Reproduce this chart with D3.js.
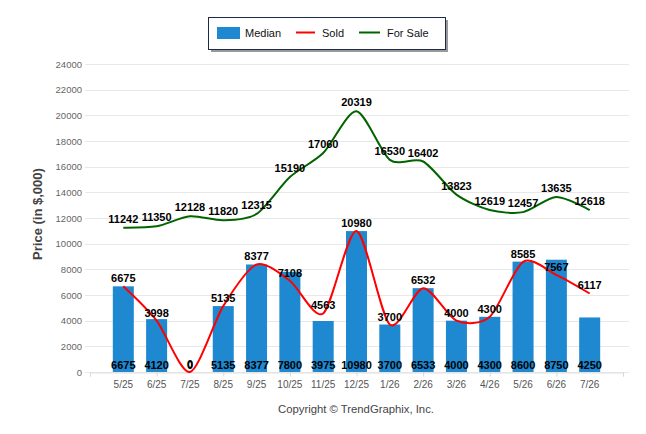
<!DOCTYPE html>
<html>
<head>
<meta charset="utf-8">
<script src="https://cdn.jsdelivr.net/npm/d3@7"></script>
<style>
  body { margin: 0; background: #fff; }
  svg { font-family: "Liberation Sans", Arial, sans-serif; }
</style>
</head>
<body>
<div id="chart"></div>
<script>
// chart data
const months = ['5/25', '6/25', '7/25', '8/25', '9/25', '10/25', '11/25', '12/25',
  '1/26', '2/26', '3/26', '4/26', '5/26', '6/26', '7/26'];
const median = [6675, 4120, 0, 5135, 8377, 7800, 3975, 10980, 3700, 6533, 4000, 4300, 8600, 8750, 4250];
const sold = [6675, 3998, 0, 5135, 8377, 7108, 4563, 10980, 3700, 6532, 4000, 4300, 8585, 7567, 6117];
const forSale = [11242, 11350, 12128, 11820, 12315, 15190, 17060, 20319, 16530, 16402, 13823, 12619, 12457, 13635, 12618];
const yTicks = [0, 2000, 4000, 6000, 8000, 10000, 12000, 14000, 16000, 18000, 20000, 22000, 24000];

const width = 646, height = 434;
const margin = {top: 64, right: 24, bottom: 62, left: 90};

const svg = d3.select('#chart').append('svg')
    .attr('width', width)
    .attr('height', height);

// categories sit at index 1..15 on a 0..16 axis
const x = d3.scaleLinear()
    .domain([0, months.length + 1])
    .range([margin.left, width - margin.right + 1]);

const y = d3.scaleLinear()
    .domain([0, 24000])
    .range([height - margin.bottom, margin.top]);

// gridlines
svg.append('g')
  .selectAll('line')
  .data(yTicks)
  .join('line')
    .attr('x1', 85)
    .attr('x2', 629)
    .attr('y1', d => Math.round(y(d)) + 0.5)
    .attr('y2', d => Math.round(y(d)) + 0.5)
    .attr('stroke', '#e8e8e8');

// y tick labels
svg.append('g')
  .selectAll('text')
  .data(yTicks)
  .join('text')
    .attr('x', 82)
    .attr('y', d => y(d) + 3.5)
    .attr('text-anchor', 'end')
    .attr('font-size', 9.5)
    .attr('fill', '#666')
    .text(d => d);

// x axis
const xAxis = d3.axisBottom(x)
    .tickValues(d3.range(0, months.length + 2, 2))
    .tickSize(4)
    .tickFormat('');
const gx = svg.append('g')
    .attr('transform', `translate(0,${Math.round(y(0)) + 0.5})`)
    .call(xAxis);
gx.select('.domain').attr('stroke', '#e0e0e0');
gx.selectAll('.tick line').attr('stroke', '#d8d8d8');

svg.append('g')
  .selectAll('text')
  .data(months)
  .join('text')
    .attr('x', (d, i) => x(i + 1))
    .attr('y', 388)
    .attr('text-anchor', 'middle')
    .attr('font-size', 10)
    .attr('fill', '#555')
    .text(d => d);

// bars
const barW = 21;
svg.append('g')
  .selectAll('rect')
  .data(median)
  .join('rect')
    .attr('x', (d, i) => x(i + 1) - barW / 2)
    .attr('y', d => y(d))
    .attr('width', barW)
    .attr('height', d => y(0) - y(d))
    .attr('fill', '#1e88d0');

// clip for lines so the spline stays inside the plot
svg.append('clipPath').attr('id', 'plot')
  .append('rect')
    .attr('x', margin.left).attr('y', margin.top - 10)
    .attr('width', width - margin.left - margin.right)
    .attr('height', y(0) - margin.top + 11);

const line = d3.line()
    .x((d, i) => x(i + 1))
    .y(d => y(d))
    .curve(d3.curveCardinal.tension(0.2));

svg.append('path')
    .datum(forSale)
    .attr('d', line)
    .attr('fill', 'none')
    .attr('stroke', '#006400')
    .attr('stroke-width', 2)
    .attr('clip-path', 'url(#plot)');

svg.append('path')
    .datum(sold)
    .attr('d', line)
    .attr('fill', 'none')
    .attr('stroke', '#ff0000')
    .attr('stroke-width', 2)
    .attr('clip-path', 'url(#plot)');

// data labels
function labels(data, yPos) {
  svg.append('g')
    .selectAll('text')
    .data(data)
    .join('text')
      .attr('x', (d, i) => x(i + 1))
      .attr('y', yPos)
      .attr('text-anchor', 'middle')
      .attr('font-size', 11)
      .attr('font-weight', 'bold')
      .attr('fill', '#000')
      .text(d => d);
}
labels(median, () => 369);
labels(sold, d => y(d) - 4);
labels(forSale, d => y(d) - 5);

// y axis title
svg.append('text')
    .attr('transform', 'translate(42,214) rotate(-90)')
    .attr('text-anchor', 'middle')
    .attr('font-size', 13)
    .attr('font-weight', 'bold')
    .attr('fill', '#444')
    .text('Price (in $,000)');

// copyright
svg.append('text')
    .attr('x', 356)
    .attr('y', 413)
    .attr('text-anchor', 'middle')
    .attr('font-size', 11.3)
    .attr('fill', '#444')
    .text('Copyright \u00A9 TrendGraphix, Inc.');

// legend
const legend = svg.append('g');
legend.append('rect')
    .attr('x', 211).attr('y', 20)
    .attr('width', 237).attr('height', 32)
    .attr('fill', '#999');
legend.append('rect')
    .attr('x', 208.5).attr('y', 17.5)
    .attr('width', 237).attr('height', 32)
    .attr('fill', '#fff')
    .attr('stroke', '#1c2b4a');

legend.append('rect')
    .attr('x', 217).attr('y', 27)
    .attr('width', 23).attr('height', 12)
    .attr('fill', '#1e88d0');
legend.append('line')
    .attr('x1', 296).attr('x2', 315)
    .attr('y1', 32.5).attr('y2', 32.5)
    .attr('stroke', '#ff0000').attr('stroke-width', 2);
legend.append('line')
    .attr('x1', 359).attr('x2', 380)
    .attr('y1', 32.5).attr('y2', 32.5)
    .attr('stroke', '#006400').attr('stroke-width', 2);

const legendItems = [['Median', 245], ['Sold', 322], ['For Sale', 387]];
legend.selectAll('text.item')
  .data(legendItems)
  .join('text')
    .attr('class', 'item')
    .attr('x', d => d[1])
    .attr('y', 37)
    .attr('font-size', 11)
    .attr('fill', '#111')
    .text(d => d[0]);
</script>
</body>
</html>
